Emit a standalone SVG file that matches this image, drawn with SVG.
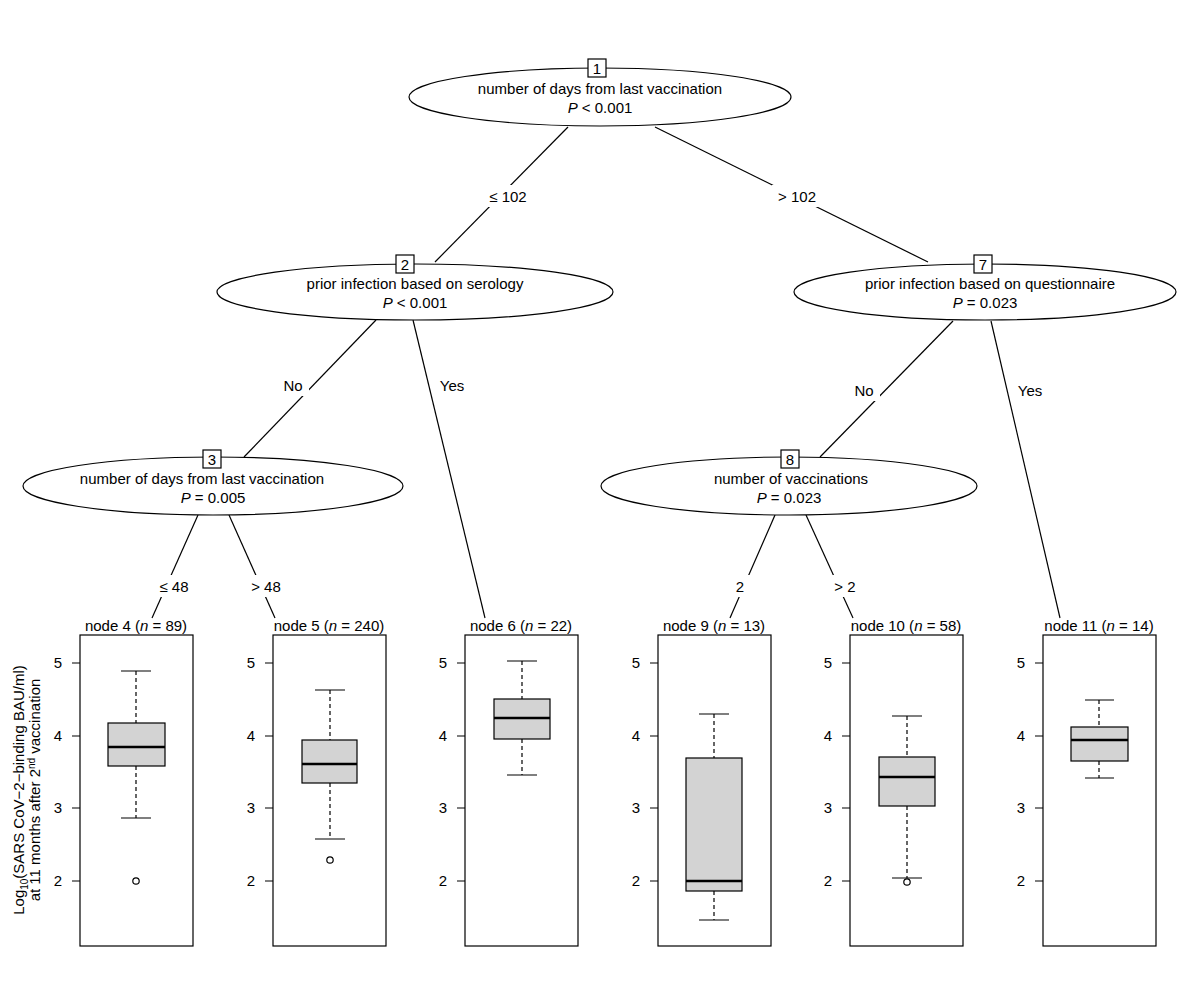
<svg xmlns="http://www.w3.org/2000/svg" width="1200" height="997" viewBox="0 0 1200 997">
<style>
text{font-family:"Liberation Sans",Arial,sans-serif;font-size:15px;fill:#000}
.m{text-anchor:middle}
.e{fill:#fff;stroke:#000;stroke-width:1.2}
.ln{stroke:#000;stroke-width:1.2;fill:none}
.lb{fill:#fff}
.pn{fill:#fff;stroke:#000;stroke-width:1.2}
.bx{fill:#d3d3d3;stroke:#000;stroke-width:1.2}
.md{stroke:#000;stroke-width:2.6}
.wh{stroke:#000;stroke-width:1.2;stroke-dasharray:4 3}
.tk{text-anchor:end}
</style>
<rect width="1200" height="997" fill="#fff"/>
<g id="connectors">
<line class="ln" x1="568" y1="127" x2="435" y2="262"/>
<line class="ln" x1="655" y1="127" x2="928" y2="262"/>
<line class="ln" x1="376" y1="320" x2="244" y2="457"/>
<line class="ln" x1="413" y1="320" x2="485" y2="618"/>
<line class="ln" x1="953" y1="321" x2="820" y2="457"/>
<line class="ln" x1="991" y1="321" x2="1060" y2="618"/>
<line class="ln" x1="198" y1="515" x2="152" y2="618"/>
<line class="ln" x1="229" y1="515" x2="275" y2="618"/>
<line class="ln" x1="775" y1="515" x2="730" y2="618"/>
<line class="ln" x1="806" y1="515" x2="853" y2="618"/>
<rect class="lb" x="484" y="185" width="48" height="22"/><text class="m" x="508" y="202">≤ 102</text>
<rect class="lb" x="772" y="185" width="50" height="22"/><text class="m" x="797" y="202">&gt; 102</text>
<rect class="lb" x="277" y="374" width="32" height="22"/><text class="m" x="293" y="391">No</text>
<rect class="lb" x="434" y="374" width="36" height="22"/><text class="m" x="452" y="391">Yes</text>
<rect class="lb" x="848" y="379" width="32" height="22"/><text class="m" x="864" y="396">No</text>
<rect class="lb" x="1012" y="379" width="36" height="22"/><text class="m" x="1030" y="396">Yes</text>
<rect class="lb" x="152" y="575" width="44" height="22"/><text class="m" x="174" y="592">≤ 48</text>
<rect class="lb" x="244" y="575" width="44" height="22"/><text class="m" x="266" y="592">&gt; 48</text>
<rect class="lb" x="730" y="575" width="20" height="22"/><text class="m" x="740" y="592">2</text>
<rect class="lb" x="830" y="575" width="30" height="22"/><text class="m" x="845" y="592">&gt; 2</text>
</g>
<g id="node1"><ellipse class="e" cx="600" cy="97" rx="191" ry="29"/><rect class="pn" x="588" y="59" width="18" height="18"/><text class="m" x="597" y="74">1</text><text class="m" x="600" y="94">number of days from last vaccination</text><text class="m" x="600" y="113"><tspan font-style="italic">P</tspan> &lt; 0.001</text></g>
<g id="node2"><ellipse class="e" cx="415" cy="292" rx="198" ry="28"/><rect class="pn" x="396" y="255" width="18" height="18"/><text class="m" x="405" y="270">2</text><text class="m" x="415" y="289">prior infection based on serology</text><text class="m" x="415" y="308"><tspan font-style="italic">P</tspan> &lt; 0.001</text></g>
<g id="node7"><ellipse class="e" cx="985" cy="292" rx="191" ry="28"/><rect class="pn" x="974" y="255" width="18" height="18"/><text class="m" x="983" y="270">7</text><text class="m" x="990" y="289">prior infection based on questionnaire</text><text class="m" x="985" y="308"><tspan font-style="italic">P</tspan> = 0.023</text></g>
<g id="node3"><ellipse class="e" cx="213" cy="486" rx="190" ry="29"/><rect class="pn" x="203" y="450" width="18" height="18"/><text class="m" x="212" y="465">3</text><text class="m" x="202" y="484">number of days from last vaccination</text><text class="m" x="213" y="503"><tspan font-style="italic">P</tspan> = 0.005</text></g>
<g id="node8"><ellipse class="e" cx="789" cy="486" rx="188" ry="29"/><rect class="pn" x="781" y="450" width="18" height="18"/><text class="m" x="790" y="465">8</text><text class="m" x="791" y="484">number of vaccinations</text><text class="m" x="789" y="503"><tspan font-style="italic">P</tspan> = 0.023</text></g>

<text transform="translate(24,790) rotate(-90)" class="m">Log<tspan font-size="10" dy="4">10</tspan><tspan dy="-4">(SARS CoV−2−binding BAU/ml)</tspan></text>
<text transform="translate(40,790) rotate(-90)" class="m">at 11 months after 2<tspan font-size="10" dy="-5">nd</tspan><tspan dy="5"> vaccination</tspan></text>

<g id="node4">
<text class="m" x="136" y="631">node 4 (<tspan font-style="italic">n</tspan> = 89)</text>
<rect class="pn" x="80" y="635" width="113" height="311"/>
<path class="ln" d="M72,663H80M72,736H80M72,808H80M72,881H80"/>
<text class="tk" x="62" y="668">5</text><text class="tk" x="62" y="741">4</text><text class="tk" x="62" y="813">3</text><text class="tk" x="62" y="886">2</text>
<line class="wh" x1="136" y1="671" x2="136" y2="723"/><line class="wh" x1="136" y1="766" x2="136" y2="818"/>
<path class="ln" d="M121,671H151M121,818H151"/>
<rect class="bx" x="108" y="723" width="57" height="43"/><line class="md" x1="108" y1="747" x2="165" y2="747"/>
<circle class="ln" cx="136" cy="881" r="3.2"/>
</g>
<g id="node5">
<text class="m" x="329" y="631">node 5 (<tspan font-style="italic">n</tspan> = 240)</text>
<rect class="pn" x="273" y="635" width="113" height="311"/>
<path class="ln" d="M265,663H273M265,736H273M265,808H273M265,881H273"/>
<text class="tk" x="255" y="668">5</text><text class="tk" x="255" y="741">4</text><text class="tk" x="255" y="813">3</text><text class="tk" x="255" y="886">2</text>
<line class="wh" x1="330" y1="690" x2="330" y2="740"/><line class="wh" x1="330" y1="783" x2="330" y2="839"/>
<path class="ln" d="M315,690H345M315,839H345"/>
<rect class="bx" x="302" y="740" width="55" height="43"/><line class="md" x1="302" y1="764" x2="357" y2="764"/>
<circle class="ln" cx="330" cy="860" r="3.2"/>
</g>
<g id="node6">
<text class="m" x="521" y="631">node 6 (<tspan font-style="italic">n</tspan> = 22)</text>
<rect class="pn" x="465" y="635" width="113" height="311"/>
<path class="ln" d="M457,663H465M457,736H465M457,808H465M457,881H465"/>
<text class="tk" x="447" y="668">5</text><text class="tk" x="447" y="741">4</text><text class="tk" x="447" y="813">3</text><text class="tk" x="447" y="886">2</text>
<line class="wh" x1="522" y1="661" x2="522" y2="699"/><line class="wh" x1="522" y1="739" x2="522" y2="775"/>
<path class="ln" d="M507,661H537M507,775H537"/>
<rect class="bx" x="494" y="699" width="56" height="40"/><line class="md" x1="494" y1="718" x2="550" y2="718"/>
</g>
<g id="node9">
<text class="m" x="714" y="631">node 9 (<tspan font-style="italic">n</tspan> = 13)</text>
<rect class="pn" x="658" y="635" width="113" height="311"/>
<path class="ln" d="M650,663H658M650,736H658M650,808H658M650,881H658"/>
<text class="tk" x="640" y="668">5</text><text class="tk" x="640" y="741">4</text><text class="tk" x="640" y="813">3</text><text class="tk" x="640" y="886">2</text>
<line class="wh" x1="714" y1="714" x2="714" y2="758"/><line class="wh" x1="714" y1="891" x2="714" y2="920"/>
<path class="ln" d="M699,714H729M699,920H729"/>
<rect class="bx" x="686" y="758" width="56" height="133"/><line class="md" x1="686" y1="881" x2="742" y2="881"/>
</g>
<g id="node10">
<text class="m" x="906" y="631">node 10 (<tspan font-style="italic">n</tspan> = 58)</text>
<rect class="pn" x="850" y="635" width="113" height="311"/>
<path class="ln" d="M842,663H850M842,736H850M842,808H850M842,881H850"/>
<text class="tk" x="832" y="668">5</text><text class="tk" x="832" y="741">4</text><text class="tk" x="832" y="813">3</text><text class="tk" x="832" y="886">2</text>
<line class="wh" x1="907" y1="716" x2="907" y2="757"/><line class="wh" x1="907" y1="806" x2="907" y2="878"/>
<path class="ln" d="M892,716H922M892,878H922"/>
<rect class="bx" x="879" y="757" width="56" height="49"/><line class="md" x1="879" y1="777" x2="935" y2="777"/>
<circle class="ln" cx="907" cy="882" r="3.2"/>
</g>
<g id="node11">
<text class="m" x="1099" y="631">node 11 (<tspan font-style="italic">n</tspan> = 14)</text>
<rect class="pn" x="1043" y="635" width="113" height="311"/>
<path class="ln" d="M1035,663H1043M1035,736H1043M1035,808H1043M1035,881H1043"/>
<text class="tk" x="1025" y="668">5</text><text class="tk" x="1025" y="741">4</text><text class="tk" x="1025" y="813">3</text><text class="tk" x="1025" y="886">2</text>
<line class="wh" x1="1099" y1="700" x2="1099" y2="727"/><line class="wh" x1="1099" y1="761" x2="1099" y2="778"/>
<path class="ln" d="M1085,700H1114M1085,778H1114"/>
<rect class="bx" x="1071" y="727" width="57" height="34"/><line class="md" x1="1071" y1="740" x2="1128" y2="740"/>
</g>
</svg>
